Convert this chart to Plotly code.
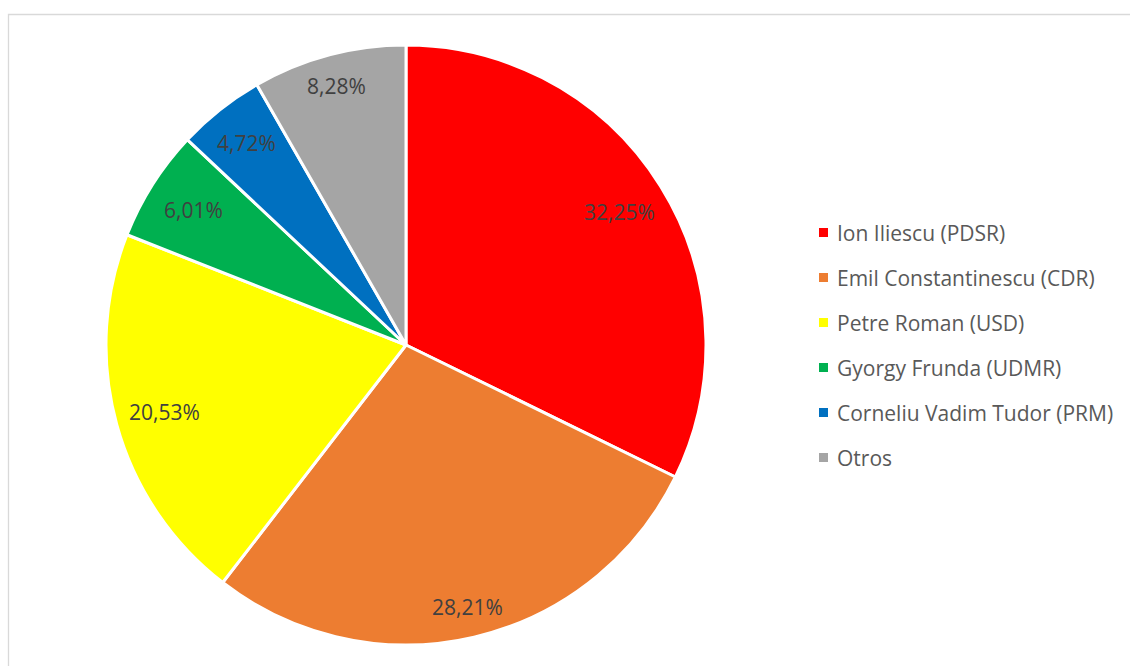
import math
import plotly.graph_objects as go

# Romanian presidential election, first round - vote share by candidate
candidates = [
    "Ion Iliescu (PDSR)",
    "Emil Constantinescu (CDR)",
    "Petre Roman (USD)",
    "Gyorgy Frunda (UDMR)",
    "Corneliu Vadim Tudor (PRM)",
    "Otros",
]
shares = [32.25, 28.21, 20.53, 6.01, 4.72, 8.28]
share_labels = ["32,25%", "28,21%", "20,53%", "6,01%", "4,72%", "8,28%"]
colors = ["#FF0000", "#ED7D31", "#FFFF00", "#00B050", "#0070C0", "#A5A5A5"]

W, H = 1130, 666
CX, CY, R = 406, 345, 300  # pie centre and radius in pixels

fig = go.Figure(
    go.Pie(
        labels=candidates,
        values=shares,
        sort=False,
        direction="clockwise",
        rotation=0,
        marker=dict(colors=colors, line=dict(color="white", width=3)),
        textinfo="none",
        hoverinfo="label+percent",
        showlegend=False,
        domain=dict(x=[(CX - R) / W, (CX + R) / W], y=[1 - (CY + R) / H, 1 - (CY - R) / H]),
    )
)

annotations = []
shapes = []

# Percentage labels placed near the rim of each slice, along the slice bisector
total = sum(shares)
start = 0.0
for val, txt in zip(shares, share_labels):
    sweep = 360.0 * val / total
    mid = math.radians(start + sweep / 2)
    start += sweep
    ux, uy = math.sin(mid), -math.cos(mid)
    d = 287 - (abs(ux) * 35 + abs(uy) * 10)
    px, py = CX + d * ux, CY + d * uy
    annotations.append(dict(
        x=px / W, y=1 - py / H, xref="paper", yref="paper",
        text=txt, showarrow=False, xanchor="center", yanchor="middle",
        font=dict(family="Open Sans", size=21, color="#404040"),
    ))

# Legend: coloured squares with candidate names
LEG_X, LEG_Y0, LEG_DY, SQ = 823.5, 232.5, 45, 9
for i, (name, col) in enumerate(zip(candidates, colors)):
    y = LEG_Y0 + i * LEG_DY
    shapes.append(dict(
        type="rect", xref="paper", yref="paper",
        x0=(LEG_X - SQ / 2) / W, x1=(LEG_X + SQ / 2) / W,
        y0=1 - (y + SQ / 2) / H, y1=1 - (y - SQ / 2) / H,
        fillcolor=col, line=dict(width=0),
    ))
    annotations.append(dict(
        x=835 / W, y=1 - y / H, xref="paper", yref="paper",
        text=name, showarrow=False, xanchor="left", yanchor="middle",
        font=dict(family="Open Sans", size=21, color="#595959"),
    ))

# Chart area frame
shapes.append(dict(
    type="rect", xref="paper", yref="paper",
    x0=8.5 / W, x1=1.02, y0=-0.02, y1=1 - 14.5 / H,
    line=dict(color="#D9D9D9", width=1.3), fillcolor="rgba(0,0,0,0)", layer="below",
))

fig.update_layout(
    width=W, height=H,
    margin=dict(l=0, r=0, t=0, b=0),
    paper_bgcolor="white",
    plot_bgcolor="white",
    annotations=annotations,
    shapes=shapes,
    showlegend=False,
)

fig.write_html("out.html", config={"displayModeBar": False})
